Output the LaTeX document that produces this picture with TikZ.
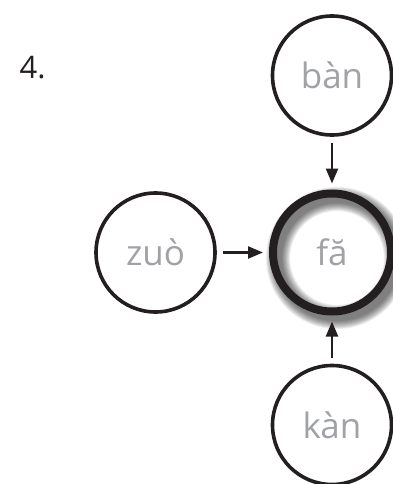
\documentclass[tikz,border=0pt]{standalone}
\usepackage{fontspec}
\setmainfont{Open Sans}
\definecolor{pinyingray}{RGB}{160,162,166}
\definecolor{pinyinink}{RGB}{35,31,32}
\usetikzlibrary{arrows.meta}

\begin{document}
\begin{tikzpicture}[x=1pt,y=-1pt,
  syll/.style={circle,draw=pinyinink,line width=3.6pt,minimum size=119pt,inner sep=0pt,
    font=\fontsize{35}{40}\selectfont,text=pinyingray},
  headsyll/.style={syll,line width=8pt,minimum size=118pt},
  feeds/.style={-{Triangle[length=15pt,width=12pt]},line width=2.4pt,pinyinink,
    shorten <=6pt,shorten >=6pt}]
  \useasboundingbox (0,0) rectangle (392,484);
  % soft shadow under the middle ring
  \foreach \w in {0,...,9}
    \draw[black,opacity=0.065,line width={(8+1.8*\w)*1pt}] (337,258) circle (59pt);
  \node[anchor=base west,text=pinyinink,font=\fontsize{31}{36}\selectfont] (num) at (16,79) {4.};
  \node[headsyll] (fa) at (332,252.5) {fă};
  \node[syll] (ban) at (332,75.5) {bàn};
  \node[syll] (zuo) at (155.5,252.5) {zuò};
  \node[syll] (kan) at (332,425) {kàn};
  \draw[feeds] (ban) -- (fa);
  \draw[feeds] (zuo) -- (fa);
  \draw[feeds] (kan) -- (fa);
\end{tikzpicture}
\end{document}
